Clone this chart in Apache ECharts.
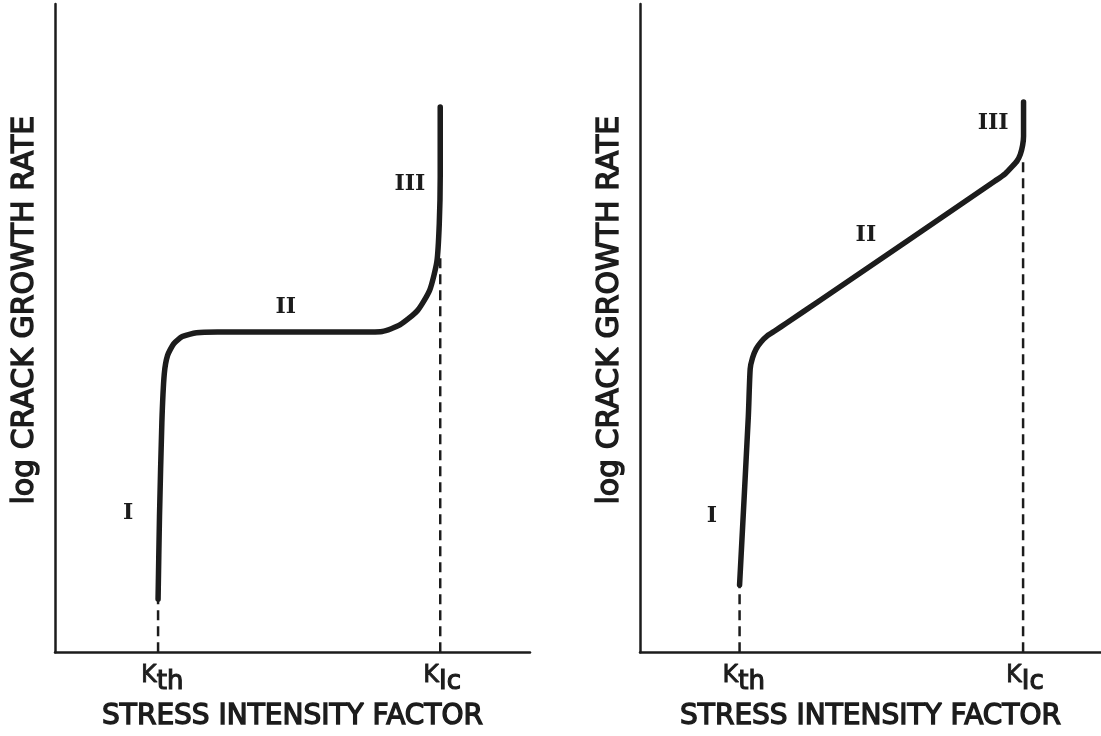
<!DOCTYPE html>
<html>
<head>
<meta charset="utf-8">
<script src="https://cdn.jsdelivr.net/npm/echarts@6/dist/echarts.min.js"></script>
<style>
  html, body { margin: 0; padding: 0; background: #ffffff; }
  #chart { width: 1101px; height: 736px; }
</style>
</head>
<body>
<div id="chart"></div>
<script>
// schematic: crack growth rate vs stress intensity factor (axes run 0..100, no units)
const leftCurveX = [21.7, 22.0, 22.5, 23.0, 23.7, 25.0, 26.8, 29.8, 34.2, 62.3, 68.9, 72.6, 76.3, 78.9, 80.4, 80.9, 81.1, 81.1];
const leftCurveY = [8.2, 21.0, 35.5, 42.9, 45.8, 47.6, 48.7, 49.3, 49.4, 49.4, 49.5, 50.5, 52.7, 55.9, 60.3, 66.1, 73.3, 84.1];
const rightCurveX = [21.6, 23.5, 23.9, 24.4, 25.2, 26.3, 27.6, 29.3, 31.8, 39.1, 77.0, 79.2, 80.7, 81.8, 82.5, 83.0, 83.2, 83.2];
const rightCurveY = [10.4, 36.4, 43.7, 45.4, 46.8, 47.9, 48.8, 49.6, 50.8, 54.3, 72.7, 73.8, 74.9, 75.8, 76.8, 78.2, 79.6, 84.9];

// K threshold / K critical positions and where the dashed guides stop
const leftKth = 21.7, leftKthTop = 8.2;
const leftKic = 81.1, leftKicTop = 61.5;
const rightKth = 21.6, rightKthTop = 10.4;
const rightKic = 83.1, rightKicTop = 76.0;

const regionNames = ['I', 'II', 'III'];
const leftRegionX = [15.4, 48.6, 74.7];
const leftRegionY = [21.5, 53.2, 72.2];
const rightRegionX = [15.6, 49.0, 76.6];
const rightRegionY = [21.0, 64.4, 81.6];

const xName = 'STRESS INTENSITY FACTOR';
const yName = 'log CRACK GROWTH RATE';

const ink = '#1c1c1c';
const font = 'DejaVu Sans';

function zip(xs, ys) {
  return xs.map((x, i) => [x, ys[i]]);
}

function makeAxisX(idx) {
  return {
    gridIndex: idx, type: 'value', min: 0, max: 100,
    name: xName, nameLocation: 'middle', nameGap: 50,
    nameTextStyle: {
      color: ink, fontFamily: font, fontSize: 28,
      textBorderColor: ink, textBorderWidth: 1.4
    },
    axisLine: { show: true, lineStyle: { color: ink, width: 2.5 } },
    axisTick: { show: false }, axisLabel: { show: false }, splitLine: { show: false }
  };
}

function makeAxisY(idx) {
  return {
    gridIndex: idx, type: 'value', min: 0, max: 100,
    name: yName, nameLocation: 'middle', nameGap: 15,
    nameTextStyle: {
      color: ink, fontFamily: font, fontSize: 30, padding: [0, 0, 0, 36],
      textBorderColor: ink, textBorderWidth: 1.4
    },
    axisLine: { show: true, lineStyle: { color: ink, width: 2.5 } },
    axisTick: { show: false }, axisLabel: { show: false }, splitLine: { show: false }
  };
}

function panelSeries(idx, cx, cy, kth, kthTop, kic, kicTop, rx, ry) {
  const dash = { color: ink, width: 2.5, type: [10, 6] };
  const kRich = {
    k: { fontFamily: font, fontSize: 24, color: ink, verticalAlign: 'top', lineHeight: 32, textBorderColor: ink, textBorderWidth: 0.8 },
    s: { fontFamily: font, fontSize: 26, color: ink, verticalAlign: 'bottom', lineHeight: 32, textBorderColor: ink, textBorderWidth: 1.2 }
  };
  return [
    {
      type: 'line', xAxisIndex: idx, yAxisIndex: idx, data: zip(cx, cy),
      smooth: 0.2, symbol: 'none',
      lineStyle: { color: ink, width: 5.5, cap: 'round', join: 'round' }
    },
    {
      type: 'line', xAxisIndex: idx, yAxisIndex: idx, data: [[kth, 0], [kth, kthTop]],
      symbol: 'none', lineStyle: dash
    },
    {
      type: 'line', xAxisIndex: idx, yAxisIndex: idx, data: [[kic, 0], [kic, kicTop]],
      symbol: 'none', lineStyle: dash
    },
    {
      type: 'scatter', xAxisIndex: idx, yAxisIndex: idx, symbolSize: 0,
      itemStyle: { opacity: 1 },
      data: zip(rx, ry).map((p, i) => ({ value: p, name: regionNames[i] })),
      label: {
        show: true, position: 'inside', formatter: '{b}', opacity: 1,
        fontFamily: 'DejaVu Serif', fontWeight: 'bold', fontSize: 22, color: ink
      }
    },
    {
      type: 'scatter', xAxisIndex: idx, yAxisIndex: idx, symbolSize: 0,
      itemStyle: { opacity: 1 },
      data: [
        { value: [kth, 0], label: { formatter: '{k|K}{s|th}' } },
        { value: [kic, 0], label: { formatter: '{k|K}{s|Ic}' } }
      ],
      label: {
        show: true, position: 'bottom', align: 'left', offset: [-17, 6], opacity: 1, rich: kRich
      }
    }
  ];
}

const chart = echarts.init(document.getElementById('chart'));
const option = {
  backgroundColor: '#ffffff',
  animation: false,
  grid: [
    { left: 55, top: 4, width: 475, bottom: 79 },
    { left: 640, top: 4, width: 461, bottom: 79 }
  ],
  xAxis: [makeAxisX(0), makeAxisX(1)],
  yAxis: [makeAxisY(0), makeAxisY(1)],
  series: [].concat(
    panelSeries(0, leftCurveX, leftCurveY, leftKth, leftKthTop, leftKic, leftKicTop, leftRegionX, leftRegionY),
    panelSeries(1, rightCurveX, rightCurveY, rightKth, rightKthTop, rightKic, rightKicTop, rightRegionX, rightRegionY)
  )
};
chart.setOption(option);
window.onresize = () => {
  chart.resize();
};
</script>
</body>
</html>
